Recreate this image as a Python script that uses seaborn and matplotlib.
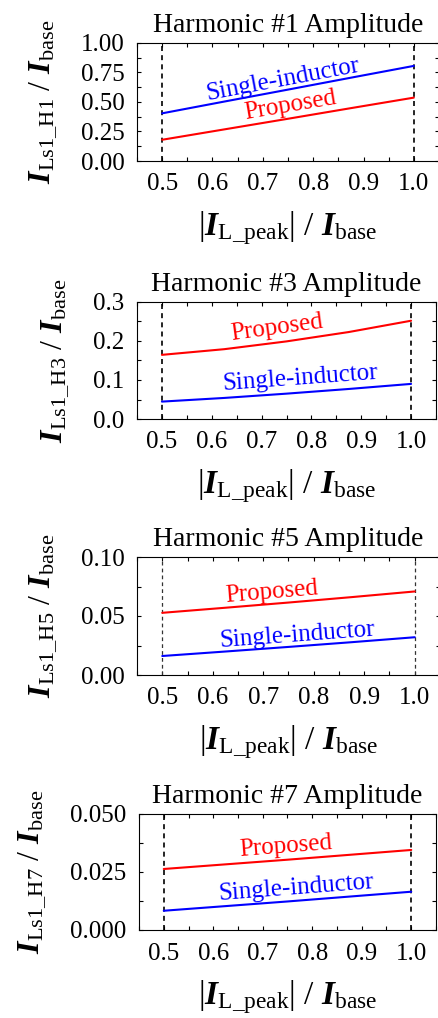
import numpy as np
import pandas as pd
import matplotlib
matplotlib.use("Agg")
import matplotlib.pyplot as plt
from matplotlib.ticker import AutoMinorLocator, FormatStrFormatter, FixedLocator
import seaborn as sns

# ---------------- data ----------------
x_vals = [0.5, 0.625, 0.75, 0.875, 1.0]

h1_single = [0.404, 0.505, 0.605, 0.706, 0.806]
h1_proposed = [0.180, 0.269, 0.358, 0.448, 0.537]

h3_single = [0.0446, 0.054, 0.065, 0.077, 0.090]
h3_proposed = [0.1645, 0.179, 0.199, 0.223, 0.252]

h5_single = [0.0161, 0.0199, 0.0238, 0.0278, 0.0320]
h5_proposed = [0.0527, 0.0570, 0.0614, 0.0660, 0.0708]

h7_single = [0.0083, 0.0103, 0.0123, 0.0144, 0.0165]
h7_proposed = [0.0263, 0.0283, 0.0303, 0.0324, 0.0345]

titles = ["Harmonic #1 Amplitude", "Harmonic #3 Amplitude",
          "Harmonic #5 Amplitude", "Harmonic #7 Amplitude"]
harm_tags = ["H1", "H3", "H5", "H7"]
y_ticks = [[0.0, 0.25, 0.5, 0.75, 1.0], [0.0, 0.1, 0.2, 0.3],
           [0.0, 0.05, 0.10], [0.0, 0.025, 0.050]]
y_fmt = ["%.2f", "%.1f", "%.2f", "%.3f"]
x_ticks = [0.5, 0.6, 0.7, 0.8, 0.9, 1.0]
series_names = ["Single-inductor", "Proposed"]
singles = [h1_single, h3_single, h5_single, h7_single]
proposeds = [h1_proposed, h3_proposed, h5_proposed, h7_proposed]

# label anchor points (data coords)
lab_single = [(0.74, 0.685), (0.778, 0.105), (0.768, 0.034), (0.767, 0.0181)]
lab_prop = [(0.754, 0.474), (0.731, 0.234), (0.716, 0.0705), (0.747, 0.0358)]

# ---------------- style ----------------
sns.set_style("ticks")
plt.rcParams["font.family"] = ["Liberation Serif", "DejaVu Serif"]
plt.rcParams["mathtext.fontset"] = "custom"
plt.rcParams["mathtext.rm"] = "Liberation Serif"
plt.rcParams["mathtext.it"] = "Liberation Serif:italic"
plt.rcParams["mathtext.bf"] = "Liberation Serif:bold:italic"
for k in ("text.color", "axes.labelcolor", "xtick.color", "ytick.color",
          "axes.edgecolor"):
    plt.rcParams[k] = "black"

W, H = 438, 1018
fig = plt.figure(figsize=(W / 100, H / 100), dpi=100)

# axes boxes in pixels: left, right, top, bottom
boxes = [(137, 439, 43, 161), (137, 436, 302, 419),
         (137, 440, 557, 675), (139, 436, 814, 930)]

colors = {"Single-inductor": "#0000ff", "Proposed": "#ff0000"}

for i in range(4):
    l, r, t, b = boxes[i]
    ax = fig.add_axes([l / W, 1 - b / H, (r - l) / W, (b - t) / H])
    df = pd.DataFrame({
        "x": x_vals * 2,
        "y": singles[i] + proposeds[i],
        "series": [series_names[0]] * len(x_vals) + [series_names[1]] * len(x_vals),
    })
    dash_lw = 0.9 if i == 2 else 1.2
    dash_col = "#333333" if i == 2 else "black"
    for xv in (x_vals[0], x_vals[-1]):
        ax.axvline(xv, color=dash_col, lw=dash_lw, ls=(0, (3, 2.5)), zorder=1)
    sns.lineplot(data=df, x="x", y="y", hue="series", palette=colors,
                 linewidth=1.5, ax=ax, legend=False, zorder=3)
    ax.set_xlim(0.45, 1.05)
    ax.set_ylim(y_ticks[i][0], y_ticks[i][-1])
    ax.xaxis.set_major_locator(FixedLocator(x_ticks))
    ax.yaxis.set_major_locator(FixedLocator(y_ticks[i]))
    ax.xaxis.set_major_formatter(FormatStrFormatter("%.1f"))
    ax.yaxis.set_major_formatter(FormatStrFormatter(y_fmt[i]))
    ax.xaxis.set_minor_locator(AutoMinorLocator(2))
    ax.yaxis.set_minor_locator(AutoMinorLocator(2))
    ax.tick_params(which="both", direction="in", top=True, right=True,
                   width=0.8, length=3, labelsize=18, pad=9, colors="black")
    for s in ax.spines.values():
        s.set_linewidth(0.8)
        s.set_color("black")
    ax.set_title(titles[i], fontsize=20, pad=8, color="black")
    ax.set_xlabel(r"$|\mathbf{I}_{\mathrm{L\_peak}}|$ / $\mathbf{I}_{\mathrm{base}}$",
                  fontsize=24, labelpad=10, color="black")
    ax.set_ylabel(r"$\mathbf{I}_{\mathrm{Ls1\_" + harm_tags[i] + r"}}$ / $\mathbf{I}_{\mathrm{base}}$",
                  fontsize=23, labelpad=16, color="black")

    for name, ys, (lx, ly) in ((series_names[0], singles[i], lab_single[i]),
                               (series_names[1], proposeds[i], lab_prop[i])):
        xa, xb = lx - 0.1, lx + 0.1
        p0 = ax.transData.transform((xa, np.interp(xa, x_vals, ys)))
        p1 = ax.transData.transform((xb, np.interp(xb, x_vals, ys)))
        ang = np.degrees(np.arctan2(p1[1] - p0[1], p1[0] - p0[0]))
        ax.text(lx, ly, name, color=colors[name], fontsize=18, rotation=ang,
                rotation_mode="anchor", ha="center", va="center", zorder=4)

fig.savefig("out.png", dpi=100)
